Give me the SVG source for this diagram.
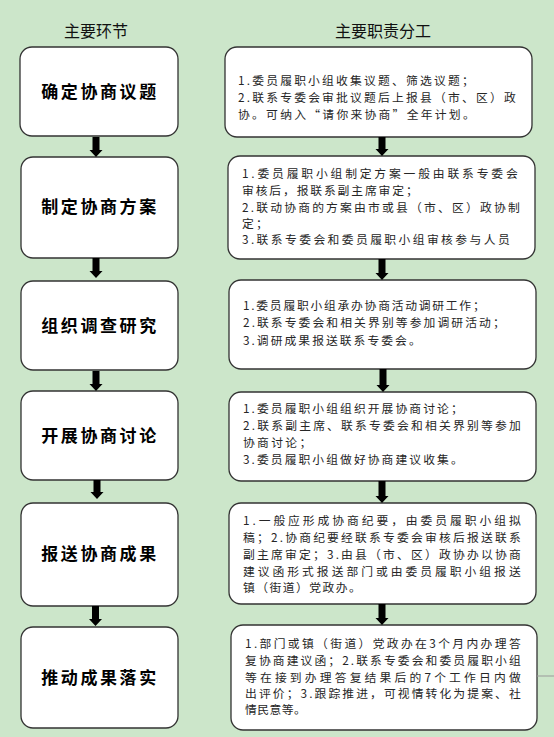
<svg xmlns="http://www.w3.org/2000/svg" width="554" height="737" viewBox="0 0 554 737">
<style>
.bg{fill:#CCE6CA}
.box{fill:#FFFFFF;stroke:#333333;stroke-width:1.3}
.hd{font-family:"Noto Sans CJK SC","Noto Sans",sans-serif;font-size:16px;fill:#111111;text-anchor:middle}
.tt{font-family:"Noto Sans CJK SC","Noto Sans",sans-serif;font-size:17px;font-weight:bold;fill:#000000;text-anchor:middle;letter-spacing:2.6px}
.tx{font-family:"Noto Sans CJK SC","Noto Sans",sans-serif;font-size:11.8px;fill:#262626;letter-spacing:2.3px}
.arr{fill:#000000}
.ln{stroke:#9a9a9a;stroke-width:1;fill:none}
</style>
<rect class="bg" x="0" y="0" width="554" height="737"/>
<text class="hd" x="96" y="37">主要环节</text>
<text class="hd" x="383" y="37">主要职责分工</text>

<g id="step1">
<rect class="box" x="20" y="47" width="158" height="89" rx="12"/>
<text class="tt" x="100" y="98">确定协商议题</text>
</g>
<g id="duty1">
<rect class="box" x="225" y="47" width="307" height="90" rx="12"/>
<text class="tx" x="238" y="85" textLength="238" lengthAdjust="spacing">1.委员履职小组收集议题、筛选议题；</text>
<text class="tx" x="238" y="102" textLength="280" lengthAdjust="spacing">2.联系专委会审批议题后上报县（市、区）政</text>
<text class="tx" x="238" y="119" textLength="239" lengthAdjust="spacing">协。可纳入“请你来协商”全年计划。</text>
</g>

<g id="step2">
<rect class="box" x="21" y="157" width="157" height="101" rx="12"/>
<text class="tt" x="100" y="213">制定协商方案</text>
</g>
<g id="duty2">
<rect class="box" x="228" y="156" width="307" height="103" rx="12"/>
<text class="tx" x="242" y="178" textLength="278" lengthAdjust="spacing">1.委员履职小组制定方案一般由联系专委会</text>
<text class="tx" x="242" y="195" textLength="178" lengthAdjust="spacing">审核后，报联系副主席审定；</text>
<text class="tx" x="242" y="212" textLength="280" lengthAdjust="spacing">2.联动协商的方案由市或县（市、区）政协制</text>
<text class="tx" x="242" y="228">定；</text>
<text class="tx" x="242" y="244" textLength="270" lengthAdjust="spacing">3.联系专委会和委员履职小组审核参与人员</text>
</g>

<g id="step3">
<rect class="box" x="21" y="281" width="157" height="89" rx="12"/>
<text class="tt" x="100" y="332">组织调查研究</text>
</g>
<g id="duty3">
<rect class="box" x="229" y="280" width="307" height="89" rx="12"/>
<text class="tx" x="243" y="310" textLength="244" lengthAdjust="spacing">1.委员履职小组承办协商活动调研工作；</text>
<text class="tx" x="243" y="327" textLength="264" lengthAdjust="spacing">2.联系专委会和相关界别等参加调研活动；</text>
<text class="tx" x="243" y="345" textLength="180" lengthAdjust="spacing">3.调研成果报送联系专委会。</text>
</g>

<g id="step4">
<rect class="box" x="21" y="391" width="157" height="89" rx="12"/>
<text class="tt" x="100" y="442">开展协商讨论</text>
</g>
<g id="duty4">
<rect class="box" x="229" y="392" width="307" height="89" rx="12"/>
<text class="tx" x="243" y="413" textLength="222" lengthAdjust="spacing">1.委员履职小组组织开展协商讨论；</text>
<text class="tx" x="243" y="430" textLength="280" lengthAdjust="spacing">2.联系副主席、联系专委会和相关界别等参加</text>
<text class="tx" x="243" y="447">协商讨论；</text>
<text class="tx" x="243" y="464" textLength="222" lengthAdjust="spacing">3.委员履职小组做好协商建议收集。</text>
</g>

<g id="step5">
<rect class="box" x="21" y="503" width="157" height="103" rx="12"/>
<text class="tt" x="100" y="560">报送协商成果</text>
</g>
<g id="duty5">
<rect class="box" x="229" y="503" width="307" height="101" rx="12"/>
<text class="tx" x="243" y="525" textLength="280" lengthAdjust="spacing">1.一般应形成协商纪要，由委员履职小组拟</text>
<text class="tx" x="243" y="542" textLength="280" lengthAdjust="spacing">稿；2.协商纪要经联系专委会审核后报送联系</text>
<text class="tx" x="243" y="559" textLength="280" lengthAdjust="spacing">副主席审定；3.由县（市、区）政协办以协商</text>
<text class="tx" x="243" y="576" textLength="280" lengthAdjust="spacing">建议函形式报送部门或由委员履职小组报送</text>
<text class="tx" x="243" y="592" textLength="120" lengthAdjust="spacing">镇（街道）党政办。</text>
</g>

<g id="step6">
<rect class="box" x="21" y="627" width="157" height="101" rx="12"/>
<text class="tt" x="100" y="684">推动成果落实</text>
</g>
<g id="duty6">
<rect class="box" x="231" y="625" width="306" height="105" rx="12"/>
<text class="tx" x="245" y="648" textLength="278" lengthAdjust="spacing">1.部门或镇（街道）党政办在3个月内办理答</text>
<text class="tx" x="245" y="665" textLength="278" lengthAdjust="spacing">复协商建议函；2.联系专委会和委员履职小组</text>
<text class="tx" x="245" y="682" textLength="278" lengthAdjust="spacing">等在接到办理答复结果后的7个工作日内做</text>
<text class="tx" x="245" y="698" textLength="278" lengthAdjust="spacing">出评价；3.跟踪推进，可视情转化为提案、社</text>
<text class="tx" x="245" y="714" textLength="63" lengthAdjust="spacing">情民意等。</text>
</g>

<g id="connectors">
<path class="arr" d="M92.5 137H99.5V150H102.5L96 157L89.5 150H92.5Z"/>
<path class="arr" d="M92.5 258H99.5V271H102.5L96 278L89.5 271H92.5Z"/>
<path class="arr" d="M92.5 371H99.5V384H102.5L96 391L89.5 384H92.5Z"/>
<path class="arr" d="M93.5 480H100.5V492H103.5L97 499L90.5 492H93.5Z"/>
<path class="arr" d="M92 606H99V619H102L95.5 626L89 619H92Z"/>
<path class="arr" d="M378.5 137H385.5V149H388.5L382 156L375.5 149H378.5Z"/>
<path class="arr" d="M378.5 259H385.5V273H388.5L382 280L375.5 273H378.5Z"/>
<path class="arr" d="M379.5 369H386.5V385H389.5L383 392L376.5 385H379.5Z"/>
<path class="arr" d="M378.5 481H385.5V496H388.5L382 503L375.5 496H378.5Z"/>
<path class="arr" d="M378.5 604H385.5V618H388.5L382 625L375.5 618H378.5Z"/>
<line class="ln" x1="537" y1="676" x2="554" y2="676"/>
</g>
</svg>
